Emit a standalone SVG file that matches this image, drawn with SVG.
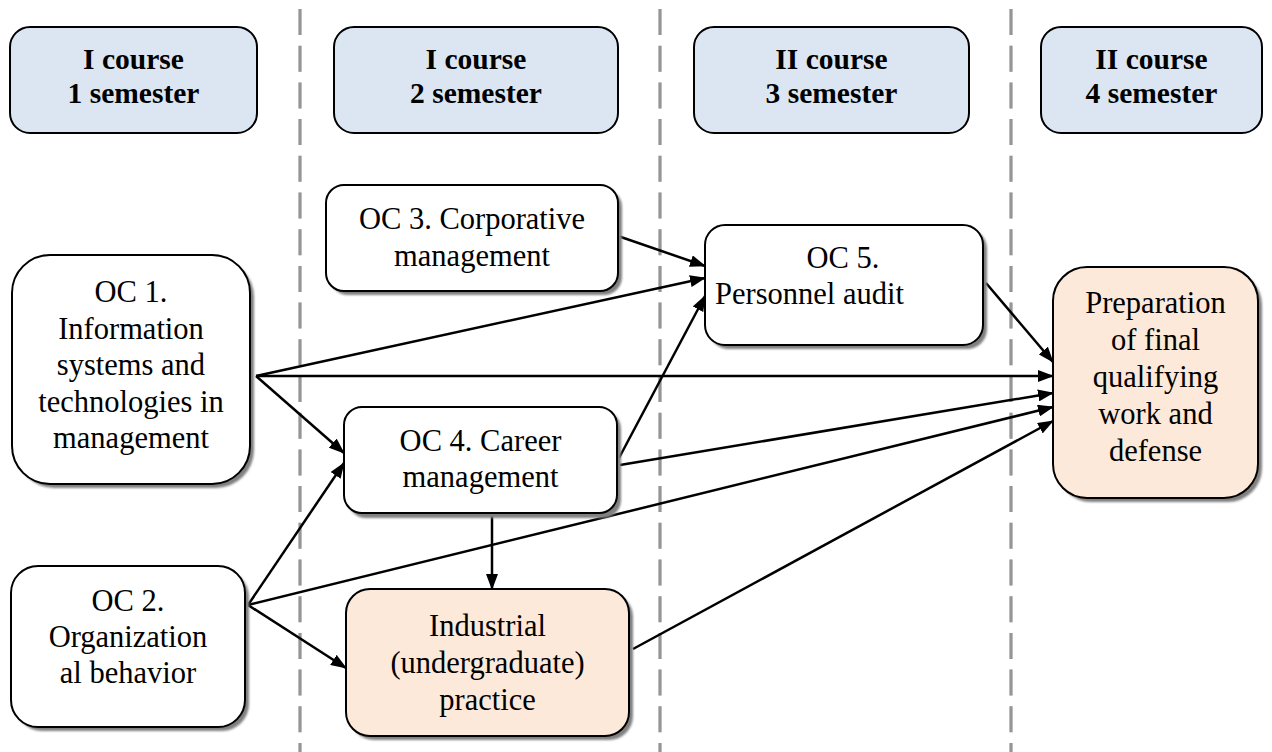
<svg xmlns="http://www.w3.org/2000/svg" width="1272" height="752" viewBox="0 0 1272 752">
  <style>
    .hdr { fill: #dce6f2; stroke: #000; stroke-width: 2; }
    .box { fill: #ffffff; stroke: #000; stroke-width: 2; }
    .org { fill: #fde9d9; stroke: #000; stroke-width: 2; }
    .shd { fill: #808080; }
    .ht { font-family: 'Liberation Serif', 'Times New Roman', serif; font-weight: bold; font-size: 29.5px; text-anchor: middle; fill: #000; }
    .t { font-family: 'Liberation Serif', 'Times New Roman', serif; font-size: 30.5px; text-anchor: middle; fill: #000; }
    .dash1 { stroke: #7a7a7a; stroke-width: 3; stroke-dasharray: 26 10.7; fill: none; }
    .dash2 { stroke: #c0c0c0; stroke-width: 0.8; stroke-dasharray: 26 10.7; fill: none; }
    .con { stroke: #000; stroke-width: 2.5; fill: none; marker-end: url(#arr); }
  </style>
  <defs>
    <marker id="arr" viewBox="0 0 16 12" refX="15" refY="6" markerWidth="16" markerHeight="12" markerUnits="userSpaceOnUse" orient="auto">
      <path d="M0,0 L16,6 L0,12 z" fill="#000"/>
    </marker>
    <filter id="blur" x="-10%" y="-10%" width="120%" height="120%">
      <feGaussianBlur stdDeviation="0.8"/>
    </filter>
  </defs>
  <rect x="0" y="0" width="1272" height="752" fill="#ffffff"/>

  <g id="separators">
    <line class="dash1" x1="300" y1="9" x2="300" y2="752"/>
    <line class="dash2" x1="300" y1="9" x2="300" y2="752"/>
    <line class="dash1" x1="660" y1="9" x2="660" y2="752"/>
    <line class="dash2" x1="660" y1="9" x2="660" y2="752"/>
    <line class="dash1" x1="1011" y1="9" x2="1011" y2="752"/>
    <line class="dash2" x1="1011" y1="9" x2="1011" y2="752"/>
  </g>

  <g id="header1">
    <rect class="hdr" x="10" y="27" width="247" height="106" rx="20"/>
    <text class="ht" x="133.5" y="69">I course</text>
    <text class="ht" x="133.5" y="103">1 semester</text>
  </g>
  <g id="header2">
    <rect class="hdr" x="334" y="27" width="284" height="106" rx="20"/>
    <text class="ht" x="476" y="69">I course</text>
    <text class="ht" x="476" y="103">2 semester</text>
  </g>
  <g id="header3">
    <rect class="hdr" x="694" y="27" width="275" height="106" rx="20"/>
    <text class="ht" x="831.5" y="69">II course</text>
    <text class="ht" x="831.5" y="103">3 semester</text>
  </g>
  <g id="header4">
    <rect class="hdr" x="1041" y="27" width="221" height="106" rx="20"/>
    <text class="ht" x="1151.5" y="69">II course</text>
    <text class="ht" x="1151.5" y="103">4 semester</text>
  </g>

  <g id="connectors">
    <line class="con" x1="618" y1="236" x2="705" y2="266"/>
    <line class="con" x1="256" y1="376" x2="705" y2="278"/>
    <line class="con" x1="256" y1="376" x2="1053" y2="376"/>
    <line class="con" x1="256" y1="376" x2="344" y2="453"/>
    <line class="con" x1="248" y1="605" x2="344" y2="463"/>
    <line class="con" x1="248" y1="605" x2="346" y2="668"/>
    <line class="con" x1="248" y1="605" x2="1053" y2="407"/>
    <line class="con" x1="619" y1="458" x2="705" y2="296"/>
    <line class="con" x1="620" y1="465" x2="1053" y2="393"/>
    <line class="con" x1="986" y1="283" x2="1053" y2="362"/>
    <line class="con" x1="492" y1="513" x2="492" y2="589"/>
    <line class="con" x1="633" y1="649" x2="1053" y2="421"/>
  </g>

  <g id="oc1">
    <rect class="shd" x="16" y="259" width="238" height="229" rx="38" filter="url(#blur)"/>
    <rect class="box" x="12" y="255" width="238" height="229" rx="38"/>
    <text class="t" x="131" y="302">OC 1.</text>
    <text class="t" x="131" y="338.5">Information</text>
    <text class="t" x="131" y="375">systems and</text>
    <text class="t" x="131" y="411.5">technologies in</text>
    <text class="t" x="131" y="448">management</text>
  </g>

  <g id="oc2">
    <rect class="shd" x="15" y="570" width="234" height="161" rx="27" filter="url(#blur)"/>
    <rect class="box" x="11" y="566" width="234" height="161" rx="27"/>
    <text class="t" x="128" y="611">OC 2.</text>
    <text class="t" x="128" y="647">Organization</text>
    <text class="t" x="128" y="683">al behavior</text>
  </g>

  <g id="oc3">
    <rect class="shd" x="330" y="189" width="292" height="106" rx="18" filter="url(#blur)"/>
    <rect class="box" x="326" y="185" width="292" height="106" rx="18"/>
    <text class="t" x="472" y="229">OC 3. Corporative</text>
    <text class="t" x="472" y="266">management</text>
  </g>

  <g id="oc4">
    <rect class="shd" x="348" y="411" width="273" height="107" rx="18" filter="url(#blur)"/>
    <rect class="box" x="344" y="407" width="273" height="106" rx="18"/>
    <text class="t" x="480.5" y="451">OC 4. Career</text>
    <text class="t" x="480.5" y="487">management</text>
  </g>

  <g id="oc5">
    <rect class="shd" x="709" y="229" width="278" height="120" rx="20" filter="url(#blur)"/>
    <rect class="box" x="705" y="225" width="278" height="120" rx="20"/>
    <text class="t" x="843" y="268">OC 5.</text>
    <text class="t" x="715" y="304" style="text-anchor:start">Personnel audit</text>
  </g>

  <g id="practice">
    <rect class="shd" x="350" y="593" width="283" height="147" rx="24" filter="url(#blur)"/>
    <rect class="org" x="346" y="589" width="283" height="147" rx="24"/>
    <text class="t" x="487.5" y="636">Industrial</text>
    <text class="t" x="487.5" y="673">(undergraduate)</text>
    <text class="t" x="487.5" y="710">practice</text>
  </g>

  <g id="final">
    <rect class="shd" x="1057" y="271" width="205" height="231" rx="34" filter="url(#blur)"/>
    <rect class="org" x="1053" y="267" width="205" height="231" rx="34"/>
    <text class="t" x="1155.5" y="313">Preparation</text>
    <text class="t" x="1155.5" y="350">of final</text>
    <text class="t" x="1155.5" y="387">qualifying</text>
    <text class="t" x="1155.5" y="424">work and</text>
    <text class="t" x="1155.5" y="461">defense</text>
  </g>
</svg>
